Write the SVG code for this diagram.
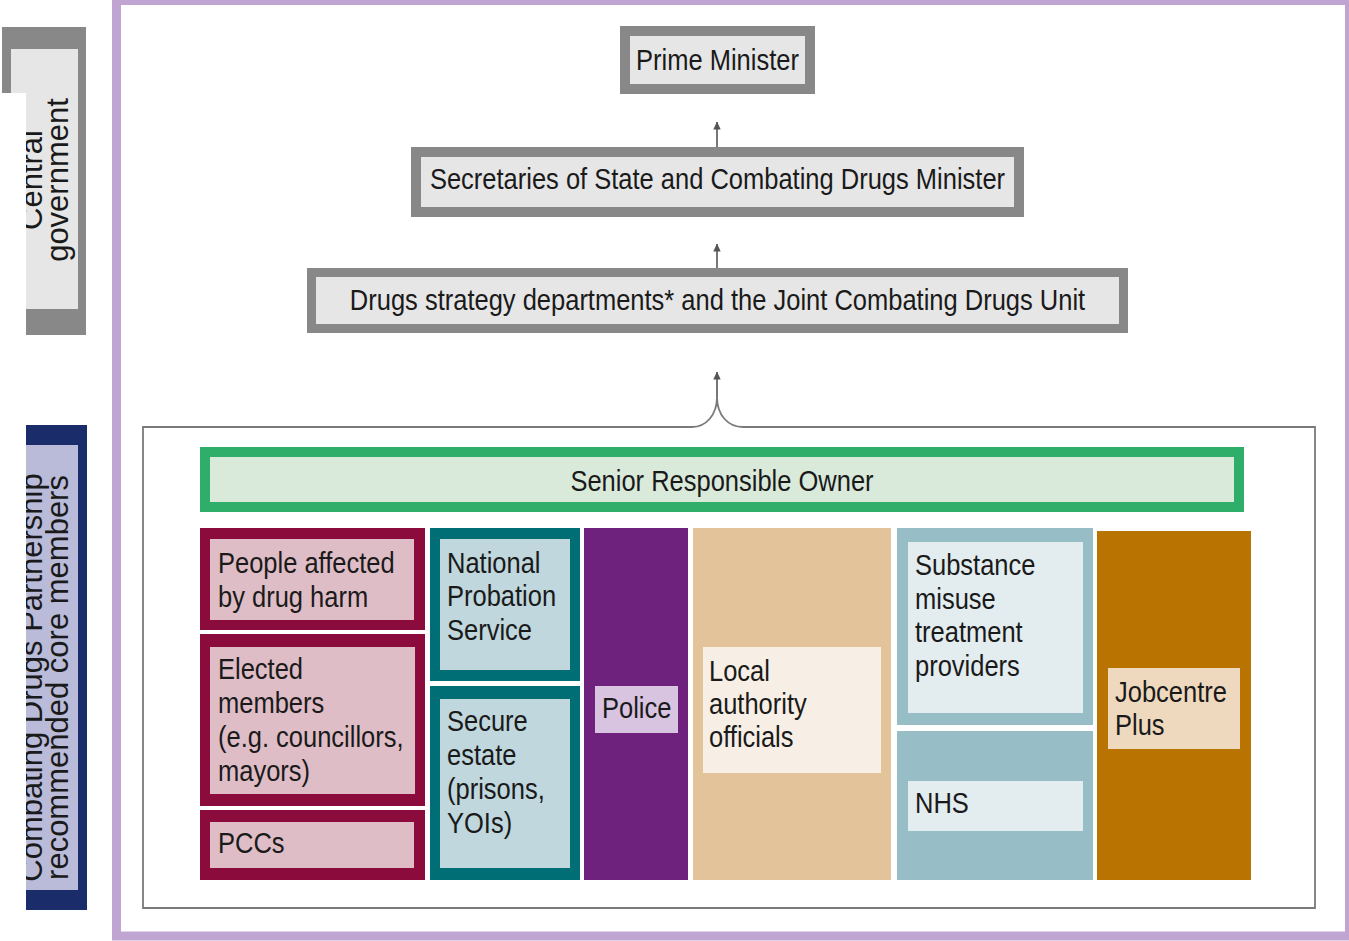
<svg xmlns="http://www.w3.org/2000/svg" width="1349" height="941" viewBox="0 0 1349 941">
<style>
.t{font-family:"Liberation Sans",Arial,sans-serif;font-size:30px;fill:#1a1a1a}
.s{font-family:"Liberation Sans",Arial,sans-serif;font-size:31px;fill:#1a1a1a;text-anchor:middle}
.c{text-anchor:middle}
.hb{fill:#e6e6e6;stroke:#888888}
.conn{fill:none;stroke:#555555;stroke-width:1.6}
</style>
<defs>
<marker id="ah" viewBox="0 0 8 8" refX="7.5" refY="4" markerWidth="8" markerHeight="8" markerUnits="userSpaceOnUse" orient="auto">
<path d="M0,0.3 L8,4 L0,7.7 Z" fill="#555555"/>
</marker>
<clipPath id="sideclip" clipPathUnits="userSpaceOnUse"><rect x="26" y="0" width="100" height="941"/></clipPath>
</defs>
<rect x="0" y="0" width="1349" height="941" fill="#ffffff"/>

<g id="frame">
<rect x="116.5" y="0.5" width="1233" height="935.5" fill="none" stroke="#c0a5d2" stroke-width="9"/>
</g>

<g id="side-central">
<path d="M2,27 H86 V335 H26 V93 H2 Z" fill="#888888"/>
<path d="M11,49 H78 V309 H26 V93 H11 Z" fill="#e6e6e6"/>
<g clip-path="url(#sideclip)">
<text class="s" transform="translate(42 180) rotate(-90)"><tspan x="0" y="0">Central</tspan><tspan x="0" dy="26">government</tspan></text>
</g>
</g>

<g id="side-cdp">
<rect x="26" y="425" width="61" height="485" fill="#1b2c6a"/>
<rect x="26" y="445" width="52" height="445" fill="#b9bbd9"/>
<g clip-path="url(#sideclip)">
<text class="s" transform="translate(42 677.5) rotate(-90)"><tspan x="0" y="0">Combating Drugs Partnership</tspan><tspan x="0" dy="26">recommended core members</tspan></text>
</g>
</g>

<g id="cdp-container">
<path d="M143,427 H692 C706,427 717,415 717,397 C717,415 728,427 743,427 H1315 V908 H143 Z" fill="none" stroke="#7a7a7a" stroke-width="1.8"/>
</g>

<g id="pm">
<rect class="hb" x="625" y="31" width="185" height="58" stroke-width="10"/>
<text class="t c" transform="translate(717.5 70) scale(0.85 1)">Prime Minister</text>
</g>

<g id="sos">
<rect class="hb" x="416" y="152" width="603" height="60" stroke-width="10"/>
<text class="t c" transform="translate(717.5 189) scale(0.85 1)">Secretaries of State and Combating Drugs Minister</text>
</g>

<g id="dsd">
<rect class="hb" x="311.5" y="272.5" width="812" height="56" stroke-width="9"/>
<text class="t c" transform="translate(717.5 310) scale(0.85 1)">Drugs strategy departments* and the Joint Combating Drugs Unit</text>
</g>

<g id="sro">
<rect x="205" y="452" width="1034" height="55" fill="#d9eadb" stroke="#2eae68" stroke-width="10"/>
<text class="t c" transform="translate(722 491) scale(0.85 1)">Senior Responsible Owner</text>
</g>

<g id="people">
<rect x="200" y="528" width="225" height="102" fill="#8b0b3d"/>
<rect x="210" y="539" width="204" height="81" fill="#dfbdc7"/>
<text class="t" transform="translate(218 573) scale(0.85 1)"><tspan x="0" y="0">People affected</tspan><tspan x="0" dy="34">by drug harm</tspan></text>
</g>

<g id="elected">
<rect x="200" y="634" width="225" height="172" fill="#8b0b3d"/>
<rect x="210" y="647" width="205" height="147" fill="#dfbdc7"/>
<text class="t" transform="translate(218 679) scale(0.85 1)"><tspan x="0" y="0">Elected</tspan><tspan x="0" dy="34">members</tspan><tspan x="0" dy="34">(e.g. councillors,</tspan><tspan x="0" dy="34">mayors)</tspan></text>
</g>

<g id="pccs">
<rect x="200" y="810" width="225" height="70" fill="#8b0b3d"/>
<rect x="210" y="822" width="204" height="46" fill="#dfbdc7"/>
<text class="t" transform="translate(218 853) scale(0.85 1)">PCCs</text>
</g>

<g id="nps">
<rect x="430" y="528" width="150" height="153" fill="#006e75"/>
<rect x="440" y="539" width="130" height="131" fill="#bfd7dd"/>
<text class="t" transform="translate(447 573) scale(0.85 1)"><tspan x="0" y="0">National</tspan><tspan x="0" dy="33.5">Probation</tspan><tspan x="0" dy="33.5">Service</tspan></text>
</g>

<g id="secure">
<rect x="430" y="686" width="150" height="194" fill="#006e75"/>
<rect x="440" y="699" width="130" height="169" fill="#bfd7dd"/>
<text class="t" transform="translate(447 731) scale(0.85 1)"><tspan x="0" y="0">Secure</tspan><tspan x="0" dy="34">estate</tspan><tspan x="0" dy="34">(prisons,</tspan><tspan x="0" dy="34">YOIs)</tspan></text>
</g>

<g id="police">
<rect x="584" y="528" width="104" height="352" fill="#6f217e"/>
<rect x="595" y="686" width="83" height="47" fill="#d8c4e1"/>
<text class="t" transform="translate(602 718) scale(0.85 1)">Police</text>
</g>

<g id="local">
<rect x="693" y="528" width="198" height="352" fill="#e3c399"/>
<rect x="703" y="647" width="178" height="126" fill="#f7efe5"/>
<text class="t" transform="translate(709 681) scale(0.85 1)"><tspan x="0" y="0">Local</tspan><tspan x="0" dy="33">authority</tspan><tspan x="0" dy="33">officials</tspan></text>
</g>

<g id="substance">
<rect x="897" y="528" width="196" height="197" fill="#97bec6"/>
<rect x="908" y="542" width="175" height="171" fill="#e3ecef"/>
<text class="t" transform="translate(915 575) scale(0.85 1)"><tspan x="0" y="0">Substance</tspan><tspan x="0" dy="33.7">misuse</tspan><tspan x="0" dy="33.7">treatment</tspan><tspan x="0" dy="33.7">providers</tspan></text>
</g>

<g id="nhs">
<rect x="897" y="731" width="196" height="149" fill="#97bec6"/>
<rect x="908" y="781" width="175" height="50" fill="#e3ecef"/>
<text class="t" transform="translate(915 813) scale(0.85 1)">NHS</text>
</g>

<g id="jobcentre">
<rect x="1097" y="531" width="154" height="349" fill="#b87300"/>
<rect x="1108" y="668" width="132" height="81" fill="#efd9be"/>
<text class="t" transform="translate(1115 702) scale(0.85 1)"><tspan x="0" y="0">Jobcentre</tspan><tspan x="0" dy="33">Plus</tspan></text>
</g>

<g id="connectors">
<path class="conn" d="M717,147 V122" marker-end="url(#ah)"/>
<path class="conn" d="M717,268 V244" marker-end="url(#ah)"/>
<path class="conn" d="M717,397 V372" marker-end="url(#ah)"/>
</g>
</svg>
